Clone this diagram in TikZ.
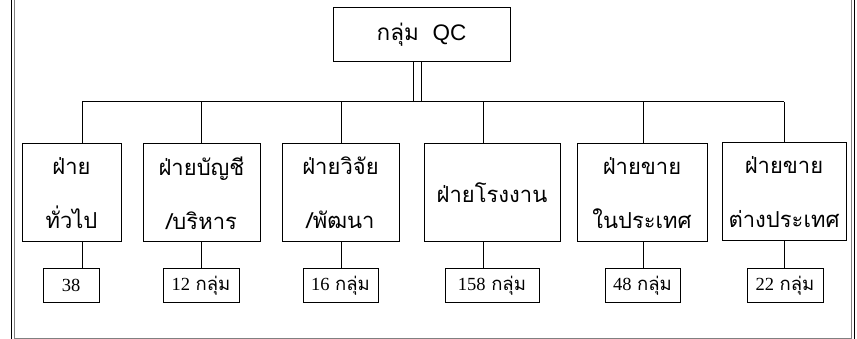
\documentclass[tikz,border=0pt]{standalone}
\usepackage{fontspec}
\newfontfamily\thai[Script=Thai]{Loma}
\newfontfamily\tms{Liberation Serif}
\newfontfamily\arl{Liberation Sans}
\newcommand\grpcount[1]{{\tms #1}\ {\thai กลุ่ม}}
\tikzset{
  box/.style={draw=black, line width=1pt, fill=white, inner sep=0pt, align=center},
  dept/.style={box, font=\thai\fontsize{22}{54}\selectfont},
  cnt/.style={box, font=\fontsize{18.5}{20}\selectfont, minimum height=33pt},
  link/.style={line width=1pt},
  frame/.style={line width=1pt}
}
\begin{document}
\begin{tikzpicture}[x=1pt,y=-1pt]
\useasboundingbox (0,0) rectangle (857,339);
% outer frame
\draw[frame] (11.5,0) -- (11.5,339);
\draw[frame,gray] (14.5,0) -- (14.5,338) -- (851,338) -- (851,0);
\draw[frame] (854,0) -- (854,339);
% top box
\node[box, minimum width=177pt, minimum height=54pt, font=\fontsize{22.5}{26}\selectfont] (top) at (421.5,35) {{\thai กลุ่ม}\ \ {\arl QC}};
% departments
\node[dept, minimum width=99pt,  minimum height=98pt] (d1) at (71.5,193) {ฝ่าย\\ทั่วไป};
\node[dept, minimum width=117pt, minimum height=98pt] (d2) at (201.5,193) {ฝ่ายบัญชี\\/บริหาร};
\node[dept, minimum width=117pt, minimum height=98pt] (d3) at (340.5,193) {ฝ่ายวิจัย\\/พัฒนา};
\node[dept, minimum width=136pt, minimum height=98pt] (d4) at (492,193) {ฝ่ายโรงงาน};
\node[dept, minimum width=130pt, minimum height=98pt] (d5) at (642,193) {ฝ่ายขาย\\ในประเทศ};
\node[dept, minimum width=124pt, minimum height=98pt] (d6) at (784,192) {ฝ่ายขาย\\ต่างประเทศ};
% counts
\node[cnt, minimum width=56pt] (s1) at (71,285.5) {\tms 38};
\node[cnt, minimum width=76pt] (s2) at (201,285.5) {\grpcount{12}};
\node[cnt, minimum width=75pt] (s3) at (340.5,285.5) {\grpcount{16}};
\node[cnt, minimum width=94pt] (s4) at (492,285.5) {\grpcount{158}};
\node[cnt, minimum width=75pt] (s5) at (642.5,285.5) {\grpcount{48}};
\node[cnt, minimum width=76pt] (s6) at (785,285.5) {\grpcount{22}};
% bus
\coordinate (t1) at (82,102);
\coordinate (t2) at (201,102);
\coordinate (t3) at (341,102);
\coordinate (t4) at (483,102);
\coordinate (t5) at (643,102);
\coordinate (t6) at (784,102);
\coordinate (ja) at (413,102);
\coordinate (jb) at (421.7,102);
\draw[link] (ja |- top.south) -- (ja);
\draw[link] (jb |- top.south) -- (jb);
\draw[link] (t1) -- (t6);
\foreach \i in {1,...,6}{
  \draw[link] (t\i) -- (t\i |- d\i.north);
  \draw[link] (t\i |- d\i.south) -- (t\i |- s\i.north);
}
\end{tikzpicture}
\end{document}
